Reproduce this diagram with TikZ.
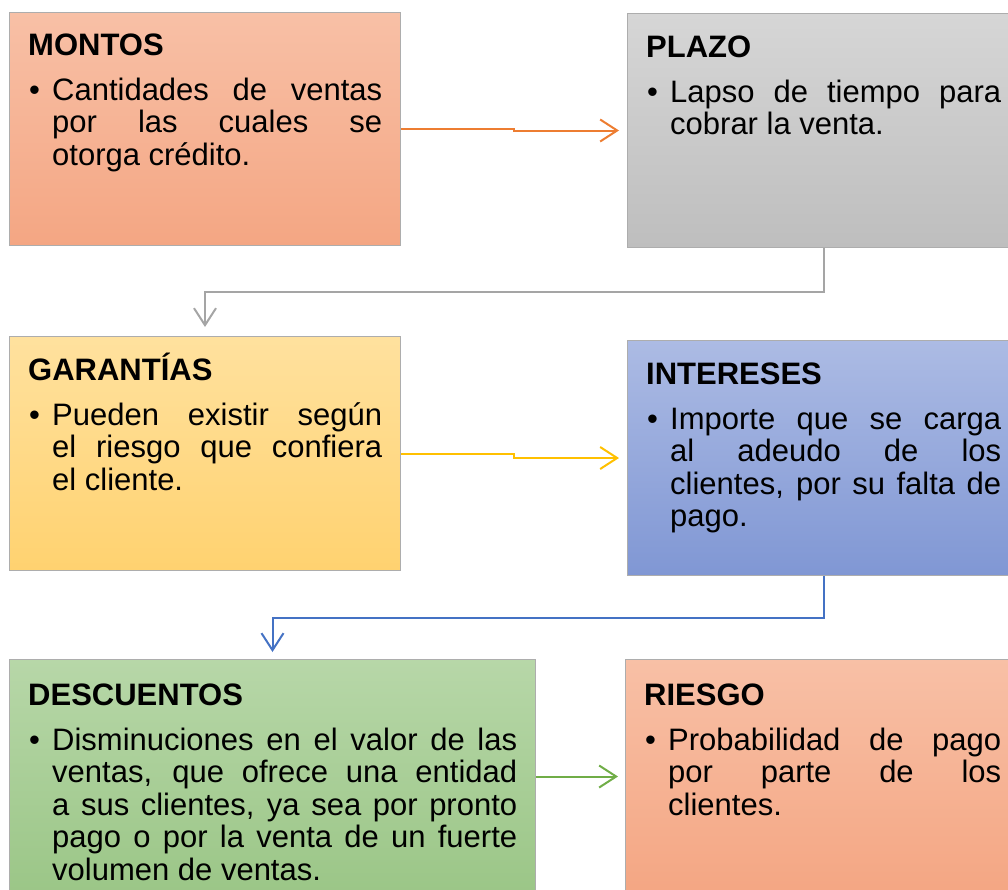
\documentclass[tikz,border=0pt]{standalone}
\usepackage{fontspec}
\setmainfont{Liberation Sans}
\usetikzlibrary{arrows.meta,positioning}

\definecolor{naranja}{RGB}{237,125,49}
\definecolor{gris}{RGB}{165,165,165}
\definecolor{amarillo}{RGB}{255,192,0}
\definecolor{azul}{RGB}{68,114,196}
\definecolor{verde}{RGB}{112,173,71}
\definecolor{salmonA}{RGB}{248,192,166}
\definecolor{salmonB}{RGB}{244,166,131}
\definecolor{grisA}{RGB}{214,214,214}
\definecolor{grisB}{RGB}{190,190,190}
\definecolor{oroA}{RGB}{255,225,158}
\definecolor{oroB}{RGB}{255,210,112}
\definecolor{azulA}{RGB}{172,187,228}
\definecolor{azulB}{RGB}{128,151,212}
\definecolor{verdeA}{RGB}{183,215,168}
\definecolor{verdeB}{RGB}{155,198,135}

\tikzset{
  caja/.style={draw=black!32,line width=1pt,anchor=north west,inner sep=0pt},
  texto/.style={anchor=base west,inner sep=0pt,align=justify,
    font=\fontsize{31}{32.5}\selectfont},
  flecha/.style={line width=2pt,-{Straight Barb[length=17pt,width=22pt]}}
}
\newcommand{\vineta}{\noindent\hangindent=24pt\hangafter=1\makebox[24pt][l]{\hspace{1pt}\textbullet}}

\begin{document}
\begin{tikzpicture}[x=1pt,y=-1pt]
	\useasboundingbox (0,0) rectangle (1008,889);
	% cajas
	\node[caja,top color=salmonA,bottom color=salmonB,minimum width=391pt,minimum height=233pt] (montos) at (9,12) {};
	\node[caja,top color=grisA,bottom color=grisB,minimum width=392pt,minimum height=234pt] (plazo) at (627,13) {};
	\node[caja,top color=oroA,bottom color=oroB,minimum width=391pt,minimum height=234pt] (garantias) at (9,336) {};
	\node[caja,top color=azulA,bottom color=azulB,minimum width=392pt,minimum height=235pt] (intereses) at (627,340) {};
	\node[caja,top color=verdeA,bottom color=verdeB,minimum width=526pt,minimum height=234pt] (descuentos) at (9,659) {};
	\node[caja,top color=salmonA,bottom color=salmonB,minimum width=394pt,minimum height=234pt] (riesgo) at (625,659) {};
	% textos
	\node[texto,text width=354pt] (tmontos) at ([xshift=19pt,yshift=-43pt]montos.north west)
		{\tolerance=10000 \hbadness=10000 \textbf{MONTOS}\par\vspace{12.5pt}
		 \vineta Cantidades de ventas\linebreak por las cuales se\linebreak otorga crédito.\par};
	\node[texto,text width=355pt] (tplazo) at ([xshift=19pt,yshift=-44pt]plazo.north west)
		{\tolerance=10000 \hbadness=10000 \textbf{PLAZO}\par\vspace{12.5pt}
		 \vineta Lapso de tiempo para\linebreak cobrar la venta.\par};
	\node[texto,text width=354pt] (tgarantias) at ([xshift=19pt,yshift=-44pt]garantias.north west)
		{\tolerance=10000 \hbadness=10000 \textbf{GARANTÍAS}\par\vspace{12.5pt}
		 \vineta Pueden existir según\linebreak el riesgo que confiera\linebreak el cliente.\par};
	\node[texto,text width=355pt] (tintereses) at ([xshift=19pt,yshift=-44pt]intereses.north west)
		{\tolerance=10000 \hbadness=10000 \textbf{INTERESES}\par\vspace{12.5pt}
		 \vineta Importe que se carga\linebreak al adeudo de los\linebreak clientes, por su falta de\linebreak pago.\par};
	\node[texto,text width=489pt] (tdescuentos) at ([xshift=19pt,yshift=-46pt]descuentos.north west)
		{\tolerance=10000 \hbadness=10000 \textbf{DESCUENTOS}\par\vspace{12.5pt}
		 \vineta Disminuciones en el valor de las\linebreak ventas, que ofrece una entidad\linebreak a sus clientes, ya sea por pronto\linebreak pago o por la venta de un fuerte\linebreak volumen de ventas.\par};
	\node[texto,text width=357pt] (triesgo) at ([xshift=19pt,yshift=-46pt]riesgo.north west)
		{\tolerance=10000 \hbadness=10000 \textbf{RIESGO}\par\vspace{12.5pt}
		 \vineta Probabilidad de pago\linebreak por parte de los\linebreak clientes.\par};
	% conectores
	\draw[flecha,naranja] (montos.east) -- ++(113,0) |- ([xshift=-8pt]plazo.west);
	\draw[flecha,gris] (plazo.south) -- ++(0,44) -| ([yshift=9pt]garantias.north);
	\draw[flecha,amarillo] (garantias.east) -- ++(113,0) |- ([xshift=-8pt]intereses.west);
	\draw[flecha,azul] (intereses.south) -- ++(0,42) -| ([yshift=7pt]descuentos.north);
	\draw[flecha,verde] (descuentos.east) -- ([xshift=-7pt]riesgo.west);
\end{tikzpicture}
\end{document}
